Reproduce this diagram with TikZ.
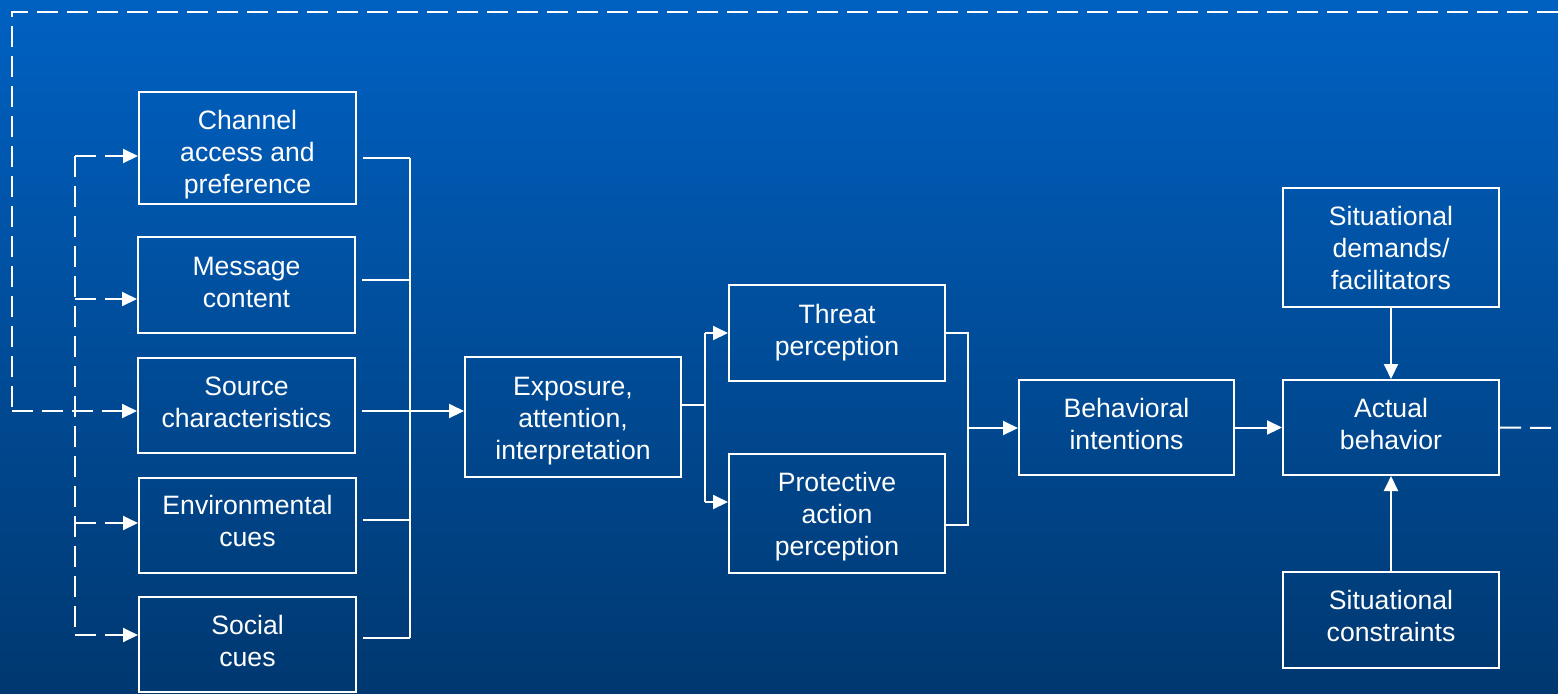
\documentclass[tikz,border=0pt]{standalone}
\usepackage{fontspec}
\setmainfont{Liberation Sans}
\usetikzlibrary{arrows.meta,calc}
\definecolor{bgtop}{RGB}{0,97,194}
\definecolor{bgbot}{RGB}{0,56,112}
\newcommand{\shtx}[2]{\raisebox{#1}[\height][\depth]{\begin{tabular}{@{}c@{}}#2\end{tabular}}}
\tikzset{
  box/.style={draw=white, line width=1pt, text=white, align=center, inner sep=0pt,
    font=\fontsize{13.3pt}{16pt}\selectfont, minimum width=108.5pt},
  conn/.style={draw=white, line width=1pt},
  arr/.style={-{Triangle[length=7.5pt,width=7pt]}},
  dsh/.style={dash pattern=on 10.5pt off 4.5pt},
  gap/.style={shorten <=3pt}
}
\begin{document}
\begin{tikzpicture}[x=0.5pt,y=-0.5pt]
\shade[top color=bgtop, bottom color=bgbot] (0,0) rectangle (1558,693);
\useasboundingbox (0,0) rectangle (1558,693);

% boxes
\node[box, minimum height=56pt] (ch) at (247.5,148) {\shtx{-3.5pt}{Channel\\access and\\preference}};
\node[box, minimum height=48pt] (msg) at (246.5,285) {\shtx{0pt}{Message\\content}};
\node[box, minimum height=47.5pt] (src) at (246.5,405.5) {\shtx{0pt}{Source\\characteristics}};
\node[box, minimum height=47.5pt] (env) at (247.5,525.5) {\shtx{0.5pt}{Environmental\\cues}};
\node[box, minimum height=47.5pt] (soc) at (247.5,644.5) {\shtx{0pt}{Social\\cues}};
\node[box, minimum width=108pt, minimum height=60pt] (exp) at (573,417) {\shtx{-2pt}{Exposure,\\attention,\\interpretation}};
\node[box, minimum width=108pt, minimum height=48pt] (thr) at (837,333) {\shtx{0pt}{Threat\\perception}};
\node[box, minimum width=108pt, minimum height=59.5pt] (pro) at (837,513.5) {\shtx{-2pt}{Protective\\action\\perception}};
\node[box, minimum width=107.5pt, minimum height=47.5pt] (beh) at (1126.5,427.5) {\shtx{0pt}{Behavioral\\intentions}};
\node[box, minimum width=108pt, minimum height=47.5pt] (act) at (1391,427.5) {\shtx{0pt}{Actual\\behavior}};
\node[box, minimum width=108pt, minimum height=59.5pt] (sd) at (1391,247.5) {\shtx{-2pt}{Situational\\demands/\\facilitators}};
\node[box, minimum width=108pt, minimum height=48pt] (sc) at (1391,620) {\shtx{0.5pt}{Situational\\constraints}};

% left dashed spine
\coordinate (l1) at (75,156);
\coordinate (l2) at (75,299);
\coordinate (l4) at (75,523);
\coordinate (l5) at (75,635);
\draw[conn,dsh] (l1) -- (l5);
\draw[conn,dsh,arr] (l1) -- (l1 -| ch.west);
\draw[conn,dsh,arr] (l2) -- (l2 -| msg.west);
\draw[conn,dsh,arr] (l4) -- (l4 -| env.west);
\draw[conn,dsh,arr] (l5) -- (l5 -| soc.west);

% feedback loop
\coordinate (fbL) at (12,411);
\coordinate (fbTL) at (12,12);
\coordinate (fbTR) at (1558,12);
\coordinate (fbR) at (1558,428);
\draw[conn,dsh] (fbTR) -- (fbTL) -- (fbL);
\draw[conn,dsh,arr] (fbL) -- (fbL -| src.west);
\draw[conn,dsh] (act.east) -- (fbR);

% right collector
\coordinate (r1) at (410,158);
\coordinate (r2) at (410,280);
\coordinate (r3) at (410,411);
\coordinate (r4) at (410,520);
\coordinate (r5) at (410,638);
\draw[conn] (r1) -- (r5);
\draw[conn,gap] (r1 -| ch.east) -- (r1);
\draw[conn,gap] (r2 -| msg.east) -- (r2);
\draw[conn,gap] (r4 -| env.east) -- (r4);
\draw[conn,gap] (r5 -| soc.east) -- (r5);
\draw[conn,gap,arr] (r3 -| src.east) -- (r3 -| exp.west);

% exposure split
\coordinate (m0) at (705,405);
\coordinate (m1) at (705,333);
\coordinate (m2) at (705,502);
\draw[conn] (m0 -| exp.east) -- (m0);
\draw[conn] (m1) -- (m2);
\draw[conn,arr] (m1) -- (m1 -| thr.west);
\draw[conn,arr] (m2) -- (m2 -| pro.west);

% perceptions merge
\coordinate (p1) at (968,333);
\coordinate (p2) at (968,525);
\coordinate (p0) at (968,428);
\draw[conn] (p1 -| thr.east) -- (p1) -- (p2) -- (p2 -| pro.east);
\draw[conn,arr] (p0) -- (p0 -| beh.west);

% to actual behavior
\draw[conn,arr] (beh.east) -- (act.west);
\draw[conn,arr] (sd.south) -- (act.north);
\draw[conn,arr] (sc.north) -- (act.south);
\end{tikzpicture}
\end{document}
